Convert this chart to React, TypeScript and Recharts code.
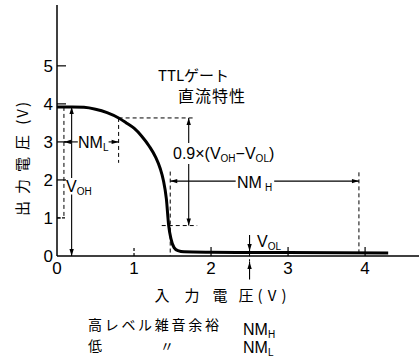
import React from "react";
import { LineChart, Line, XAxis, YAxis, ReferenceLine } from "recharts";

// TTL gate transfer characteristic
const vin = [0, 0.2, 0.35, 0.5, 0.65, 0.8, 0.9, 1.0, 1.1, 1.2, 1.28, 1.34, 1.38, 1.42, 1.45, 1.48, 1.52, 1.57, 1.65, 2.0, 3.0, 4.3];
const vout = [3.92, 3.92, 3.91, 3.86, 3.77, 3.63, 3.5, 3.36, 3.15, 2.88, 2.6, 2.3, 2.0, 1.5, 0.8, 0.45, 0.22, 0.14, 0.11, 0.1, 0.09, 0.08];

const xTicks = [0, 1, 2, 3, 4];
const yTicks = [0, 1, 2, 3, 4, 5];

// annotation levels (V)
const VOH = 3.92;
const VOL = 0.1;
const VIL = 0.8;
const VIH = 1.47;
const VNMH_END = 3.92;
const V90 = 3.63;
const V10 = 0.8;
const NML_Y = 3.0;
const NMH_Y = 1.97;
const LEFT_GUIDE_X = 0.09;
const VOH_ARROW_X = 0.19;
const SWING_ARROW_X = 1.71;
const VOL_ARROW_X = 2.5;

const data = vin.map((x, i) => ({ vin: x, vout: vout[i] }));

const NUM_FONT = "'Liberation Sans', Arial, sans-serif";
const JP_FONT = "'Noto Sans CJK JP', sans-serif";

const head = (x: number, y: number, a: number) => {
    const L = 7;
    const W = 2.2;
    const bx = x - L * Math.cos(a);
    const by = y - L * Math.sin(a);
    const pts = `${x},${y} ${bx - W * Math.sin(a)},${by + W * Math.cos(a)} ${bx + W * Math.sin(a)},${by - W * Math.cos(a)}`;
    return <polygon points={pts} fill="#000" />;
};

const arrow = (start: boolean, end: boolean) => (p: any) => {
    const { x1, y1, x2, y2 } = p;
    const a = Math.atan2(y2 - y1, x2 - x1);
    return (
        <g>
            <line x1={x1} y1={y1} x2={x2} y2={y2} stroke="#000" strokeWidth={1.1} />
            {start && head(x1, y1, a + Math.PI)}
            {end && head(x2, y2, a)}
        </g>
    );
};

const dashed = (x1: number, y1: number, x2: number, y2: number, key: string) => (
    <ReferenceLine
        key={key}
        segment={[{ x: x1, y: y1 }, { x: x2, y: y2 }]}
        stroke="#000"
        strokeWidth={1}
        strokeDasharray="4 3"
        ifOverflow="visible"
    />
);

const seg = (x1: number, y1: number, x2: number, y2: number, s: boolean, e: boolean, key: string) => (
    <ReferenceLine
        key={key}
        segment={[{ x: x1, y: y1 }, { x: x2, y: y2 }]}
        ifOverflow="visible"
        shape={arrow(s, e)}
    />
);

const YTick = (props: any) => {
    const { x, y, payload } = props;
    const ax = x + 4;
    return (
        <g>
            <text x={x} y={y + 6} textAnchor="end" fontSize={17} fontFamily={NUM_FONT} fill="#000">
                {payload.value}
            </text>
            {payload.value > 0 && (
                <line x1={ax} x2={ax + 9} y1={y} y2={y} stroke="#000" strokeWidth={1.2}
                    strokeDasharray={payload.value === 1 ? "3 2" : undefined} />
            )}
        </g>
    );
};

const XTick = (props: any) => {
    const { x, y, payload } = props;
    const ay = y - 6;
    return (
        <g>
            <text x={x} y={y + 12} textAnchor="middle" fontSize={17} fontFamily={NUM_FONT} fill="#000">
                {payload.value}
            </text>
            {payload.value > 0 && (
                <line x1={x} x2={x} y1={ay} y2={ay - 9} stroke="#000" strokeWidth={1.2}
                    strokeDasharray={payload.value === 1 ? "3 2" : undefined} />
            )}
        </g>
    );
};

const Sub = ({ children }: { children: string }) => (
    <tspan fontSize={10} dy={3}>{children}</tspan>
);

// spaced-out x axis title, one glyph at a time
const xTitle: [string, number][] = [["入", 162], ["力", 192], ["電", 220], ["圧", 246], ["(", 260], ["V", 272], [")", 284]];

const App: React.FC = () => {
    return (
        <div style={{ position: "absolute", left: 0, top: 0, width: 420, height: 359, background: "#fff" }}>
            <LineChart
                width={420}
                height={359}
                data={data}
                margin={{ top: 5, right: 1, left: 17, bottom: 73 }}
            >
                <XAxis
                    dataKey="vin"
                    type="number"
                    domain={[0, 4.7]}
                    ticks={xTicks}
                    height={30}
                    tickSize={0}
                    tickMargin={6}
                    tickLine={false}
                    tick={<XTick />}
                    axisLine={{ stroke: "#000", strokeWidth: 1.5 }}
                />
                <YAxis
                    type="number"
                    domain={[0, 6.6]}
                    ticks={yTicks}
                    width={40}
                    tickSize={0}
                    tickMargin={4}
                    tickLine={false}
                    tick={<YTick />}
                    axisLine={{ stroke: "#000", strokeWidth: 1.5 }}
                />

                {/* guide lines */}
                {dashed(LEFT_GUIDE_X, VOH, LEFT_GUIDE_X, 1, "g1")}
                {dashed(0, 1, LEFT_GUIDE_X, 1, "g2")}
                {dashed(VIL, V90, VIL, 2.45, "g3")}
                {dashed(VIL, V90, 1.8, V90, "g4")}
                {dashed(1.36, V10, 1.82, V10, "g5")}
                {dashed(VIH, 2.22, VIH, 0, "g6")}
                {dashed(VNMH_END, 2.2, VNMH_END, 0, "g7")}
                {dashed(VOL_ARROW_X, VOL, VOL_ARROW_X, -0.15, "g8")}

                {/* V_OH arrow */}
                {seg(VOH_ARROW_X, 2.05, VOH_ARROW_X, VOH, false, true, "a1")}
                {seg(VOH_ARROW_X, 1.62, VOH_ARROW_X, 0, false, true, "a2")}
                {/* NM_L arrow */}
                {seg(0.27, NML_Y, LEFT_GUIDE_X, NML_Y, false, true, "a3")}
                {seg(0.67, NML_Y, VIL, NML_Y, false, true, "a4")}
                {/* 0.9 x (VOH - VOL) arrow */}
                {seg(SWING_ARROW_X, 2.97, SWING_ARROW_X, V90, false, true, "a5")}
                {seg(SWING_ARROW_X, 2.42, SWING_ARROW_X, V10, false, true, "a6")}
                {/* NM_H arrow */}
                {seg(2.32, NMH_Y, VIH, NMH_Y, false, true, "a7")}
                {seg(2.82, NMH_Y, VNMH_END, NMH_Y, false, true, "a8")}
                {/* V_OL arrows */}
                {seg(VOL_ARROW_X, 0.55, VOL_ARROW_X, VOL + 0.03, false, true, "a9")}
                {seg(VOL_ARROW_X, -0.62, VOL_ARROW_X, -0.16, false, true, "a10")}

                <Line
                    type="monotone"
                    dataKey="vout"
                    stroke="#000"
                    strokeWidth={3}
                    dot={false}
                    isAnimationActive={false}
                />

                {/* labels */}
                <text x={78} y={148} fontSize={16} fontFamily={NUM_FONT} fill="#000">
                    NM<Sub>L</Sub>
                </text>
                <text x={66} y={192} fontSize={16} fontFamily={NUM_FONT} fill="#000">
                    V<Sub>OH</Sub>
                </text>
                <text x={173} y={159} fontSize={16} fontFamily={NUM_FONT} fill="#000">
                    0.9×(V<Sub>OH</Sub><tspan dy={-3}>−V</tspan><Sub>OL</Sub><tspan dy={-3}>)</tspan>
                </text>
                <text x={237} y={188} fontSize={16} fontFamily={NUM_FONT} fill="#000">
                    NM<tspan fontSize={10} dx={3} dy={3}>H</tspan>
                </text>
                <text x={257} y={247} fontSize={16} fontFamily={NUM_FONT} fill="#000">
                    V<Sub>OL</Sub>
                </text>

                <text x={158} y={81} fontSize={15} fontFamily={JP_FONT} fill="#000">TTLゲート</text>
                <text x={178} y={102} fontSize={16} letterSpacing={1} fontFamily={JP_FONT} fill="#000">直流特性</text>

                {xTitle.map(([c, cx]) => (
                    <text key={c} x={cx} y={301} fontSize={15} textAnchor="middle" fontFamily={JP_FONT} fill="#000">{c}</text>
                ))}

                <g transform="translate(28 216) rotate(-90)">
                    <text x={0} y={0} fontSize={15} letterSpacing={7} fontFamily={JP_FONT} fill="#000">出力電圧</text>
                    <text x={116} y={0} fontSize={15} letterSpacing={2} textAnchor="end" fontFamily={JP_FONT} fill="#000">(V)</text>
                </g>

                <text x={88} y={330} fontSize={14} letterSpacing={2.7} fontFamily={JP_FONT} fill="#000">高レベル雑音余裕</text>
                <text x={243} y={335} fontSize={16} fontFamily={NUM_FONT} fill="#000">
                    NM<Sub>H</Sub>
                </text>
                <text x={88} y={351} fontSize={14} fontFamily={JP_FONT} fill="#000">低</text>
                <text x={160} y={351} fontSize={14} fontFamily={JP_FONT} fill="#000">〃</text>
                <text x={243} y={353} fontSize={16} fontFamily={NUM_FONT} fill="#000">
                    NM<Sub>L</Sub>
                </text>
            </LineChart>
        </div>
    );
};

export default App;
